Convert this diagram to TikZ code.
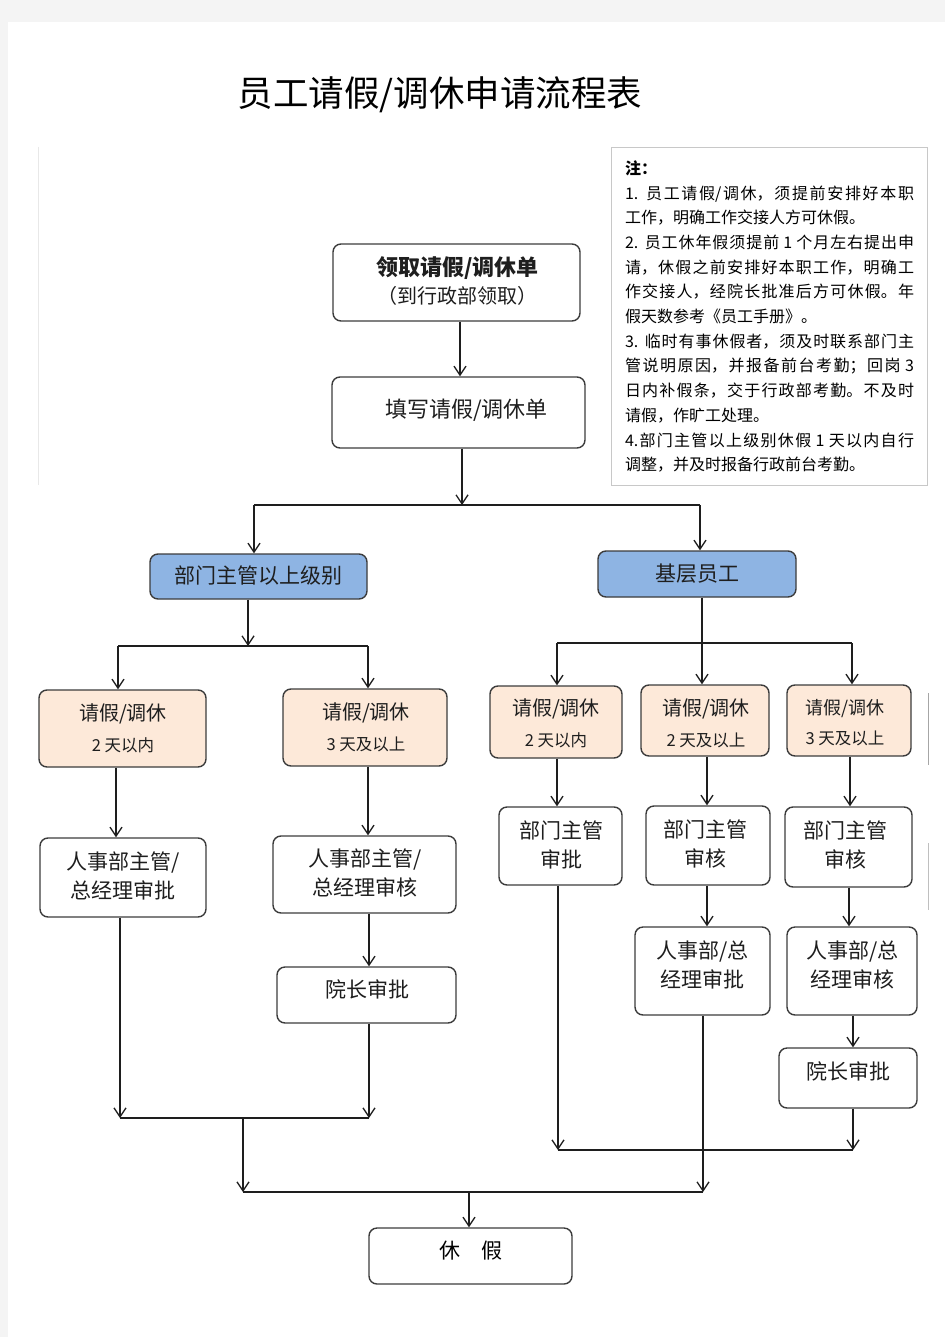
\documentclass[tikz,border=0pt]{standalone}
\usepackage{fontspec}
\setmainfont{Noto Sans CJK SC}
\usetikzlibrary{arrows.meta}
\definecolor{bluefill}{HTML}{8EB4E3}
\definecolor{peach}{HTML}{FDE9D9}
\definecolor{edge}{HTML}{3C3C3C}
\definecolor{ink}{HTML}{1E1E1E}
\definecolor{margin}{HTML}{F4F4F4}
\definecolor{notebd}{HTML}{C8C8C8}
\XeTeXlinebreaklocale "zh"
\XeTeXlinebreakskip=0pt plus 3pt minus 0.3pt
\newcommand\jl[1]{{\parfillskip=0pt\relax #1\par}}
\newcommand\nl[1]{{#1\par}}
\begin{document}
\begin{tikzpicture}[x=1pt, y=-1pt,
  box/.style={draw=edge, line width=1.4pt, rounded corners=8pt, inner sep=0pt},
  sz/.style 2 args={minimum width=#1pt, minimum height=#2pt},
  bluebox/.style={box, fill=bluefill},
  peachbox/.style={box, fill=peach},
  txt/.style={inner sep=0pt, align=center, text=ink, font=\fontsize{21}{29}\selectfont},
  twotxt/.style={txt, font=\fontsize{20}{31}\selectfont},
  arr/.style={draw=ink, line width=1.3pt, -{Straight Barb[length=9pt,width=12pt]}},
  link/.style={draw=ink, line width=1.3pt}
]
\useasboundingbox (0,0) rectangle (945,1337);
\fill[margin] (0,0) rectangle (945,1337);
\fill[white] (8,22) rectangle (945,1337);
\draw[draw=black!9, line width=1pt] (38,147) -- (38,485);
\draw[draw=black!35, line width=1pt] (928,693) -- (928,765);
\draw[draw=black!25, line width=1pt] (928,843) -- (928,910);

% title
\node[inner sep=0pt, text=black, font=\fontsize{35.5}{40}\selectfont] (title) at (440,95) {员工请假/调休申请流程表};

% notes
\node[draw=notebd, line width=1pt, anchor=north west, minimum width=316pt, minimum height=338pt,
      inner xsep=13.5pt, inner ysep=0pt, text width=289pt, align=justify, text=black,
      font=\fontsize{16}{24.7}\selectfont] (notes) at (611,147) {%
\parindent=0pt\tolerance=9999\relax
\nl{\bfseries 注：}
\jl{1. 员工请假/调休，须提前安排好本职}
\nl{工作，明确工作交接人方可休假。}
\jl{2. 员工休年假须提前 1 个月左右提出申}
\jl{请，休假之前安排好本职工作，明确工}
\jl{作交接人，经院长批准后方可休假。年}
\nl{假天数参考《员工手册》。}
\jl{3. 临时有事休假者，须及时联系部门主}
\jl{管说明原因，并报备前台考勤；回岗 3}
\jl{日内补假条，交于行政部考勤。不及时}
\nl{请假，作旷工处理。}
\jl{4.部门主管以上级别休假 1 天以内自行}
\nl{调整，并及时报备行政前台考勤。}};

% boxes
\node[box, sz={247}{77}] (A) at (456.5,282.5) {};
\node[txt, font=\fontsize{22}{28}\selectfont] (At) at (457.5,281) {{\bfseries 领取请假/调休单}\\{\fontsize{20}{28}\selectfont （到行政部领取）}};
\node[box, sz={253}{71}] (B) at (458.5,412.5) {};
\node[txt, font=\fontsize{22}{28}\selectfont] (Bt) at (466.5,410) {填写请假/调休单};

\node[bluebox, sz={217}{45}] (C) at (258.5,576.5) {};
\node[txt] (Ct) at (258.5,576) {部门主管以上级别};
\node[bluebox, sz={198}{46}] (D) at (697,574) {};
\node[txt] (Dt) at (697.5,574) {基层员工};

\node[peachbox, sz={167}{77}] (E) at (122.5,728.5) {};
\node[twotxt] (Et) at (123,728.5) {请假/调休\\{\fontsize{16.5}{31}\selectfont 2 天以内}};
\node[peachbox, sz={164}{77}] (F) at (365,727.5) {};
\node[twotxt] (Ft) at (366,727.5) {请假/调休\\{\fontsize{16.5}{31}\selectfont 3 天及以上}};

\node[box, sz={166}{79}] (G) at (123,877.5) {};
\node[txt] (Gt) at (123,875.5) {人事部主管/\\总经理审批};
\node[box, sz={183}{77}] (H) at (364.5,874.5) {};
\node[txt] (Ht) at (365,873) {人事部主管/\\总经理审核};
\node[box, sz={179}{56}] (I) at (366.5,995) {};
\node[txt] (It) at (367,989) {院长审批};
\node[box, sz={203}{56}] (J) at (470.5,1256) {};
\node[txt, font=\fontsize{21}{29}\selectfont, text=black] (Jt) at (471,1251) {休　假};

\node[peachbox, sz={132}{72}] (K) at (556,722) {};
\node[twotxt] (Kt) at (556,723.5) {请假/调休\\{\fontsize{16.5}{31}\selectfont 2 天以内}};
\node[peachbox, sz={128}{71}] (L) at (705,720.5) {};
\node[twotxt] (Lt) at (706,723) {请假/调休\\{\fontsize{16.5}{31}\selectfont 2 天及以上}};
\node[peachbox, sz={124}{71}] (M) at (849,720.5) {};
\node[twotxt, font=\fontsize{18}{30}\selectfont] (Mt) at (845,723) {请假/调休\\{\fontsize{16.5}{30}\selectfont 3 天及以上}};

\node[box, sz={123}{78}] (N) at (560.5,846) {};
\node[txt] (Nt) at (561,844.5) {部门主管\\审批};
\node[box, sz={124}{79}] (O) at (708,845.5) {};
\node[txt] (Ot) at (705,843.5) {部门主管\\审核};
\node[box, sz={127}{80}] (P) at (848.5,847) {};
\node[txt] (Pt) at (845,844.5) {部门主管\\审核};
\node[box, sz={135}{88}] (Q) at (702.5,971) {};
\node[txt] (Qt) at (702.5,964.5) {人事部/总\\经理审批};
\node[box, sz={130}{88}] (R) at (852,971) {};
\node[txt] (Rt) at (852.5,964.5) {人事部/总\\经理审核};
\node[box, sz={138}{60}] (S) at (848,1078) {};
\node[txt] (St) at (848.5,1071) {院长审批};

% connectors: top
\coordinate (cAB) at (460,0);
\draw[arr] (cAB |- A.south) -- (cAB |- B.north);
\coordinate (jB) at (462,505);
\draw[arr] (jB |- B.south) -- (jB);
\coordinate (jCl) at (254,505);
\coordinate (jDr) at (700,505);
\draw[link] (jCl) -- (jDr);
\draw[arr] (jCl) -- (jCl |- C.north);
\draw[arr] (jDr) -- (jDr |- D.north);

% left branch
\coordinate (jC) at (248,646);
\draw[arr] (jC |- C.south) -- (jC);
\coordinate (jEl) at (118,646);
\coordinate (jFr) at (368,646);
\draw[link] (jEl) -- (jFr);
\draw[arr] (jEl) -- (jEl |- E.north);
\draw[arr] (jFr) -- (jFr |- F.north);
\coordinate (cEG) at (116,0);
\draw[arr] (cEG |- E.south) -- (cEG |- G.north);
\coordinate (cFH) at (368,0);
\draw[arr] (cFH |- F.south) -- (cFH |- H.north);
\coordinate (cHI) at (369,0);
\draw[arr] (cHI |- H.south) -- (cHI |- I.north);
\coordinate (jG) at (120,1118);
\coordinate (jI) at (369,1118);
\draw[arr] (jG |- G.south) -- (jG);
\draw[arr] (jI |- I.south) -- (jI);
\draw[link] (jG) -- (jI);
\coordinate (jL1) at (243,1118);
\coordinate (jL2) at (243,1192);
\draw[arr] (jL1) -- (jL2);
\coordinate (jQ) at (703,1192);
\draw[link] (jL2) -- (jQ);
\coordinate (jJ) at (469,1192);
\draw[arr] (jJ) -- (jJ |- J.north);

% right branch
\coordinate (cDL) at (702,0);
\draw[arr] (cDL |- D.south) -- (cDL |- L.north);
\coordinate (jK) at (557,643);
\coordinate (jM) at (852,643);
\draw[link] (jK) -- (jM);
\draw[arr] (jK) -- (jK |- K.north);
\draw[arr] (jM) -- (jM |- M.north);
\coordinate (cKN) at (557,0);
\draw[arr] (cKN |- K.south) -- (cKN |- N.north);
\coordinate (cLO) at (707,0);
\draw[arr] (cLO |- L.south) -- (cLO |- O.north);
\draw[arr] (cLO |- O.south) -- (cLO |- Q.north);
\coordinate (cMP) at (850,0);
\draw[arr] (cMP |- M.south) -- (cMP |- P.north);
\coordinate (cPR) at (849,0);
\draw[arr] (cPR |- P.south) -- (cPR |- R.north);
\coordinate (cRS) at (853,0);
\draw[arr] (cRS |- R.south) -- (cRS |- S.north);
\coordinate (jN) at (558,1150);
\coordinate (jS) at (853,1150);
\draw[arr] (jN |- N.south) -- (jN);
\draw[arr] (jS |- S.south) -- (jS);
\draw[link] (jN) -- (jS);
\draw[arr] (jQ |- Q.south) -- (jQ);
\end{tikzpicture}
\end{document}
